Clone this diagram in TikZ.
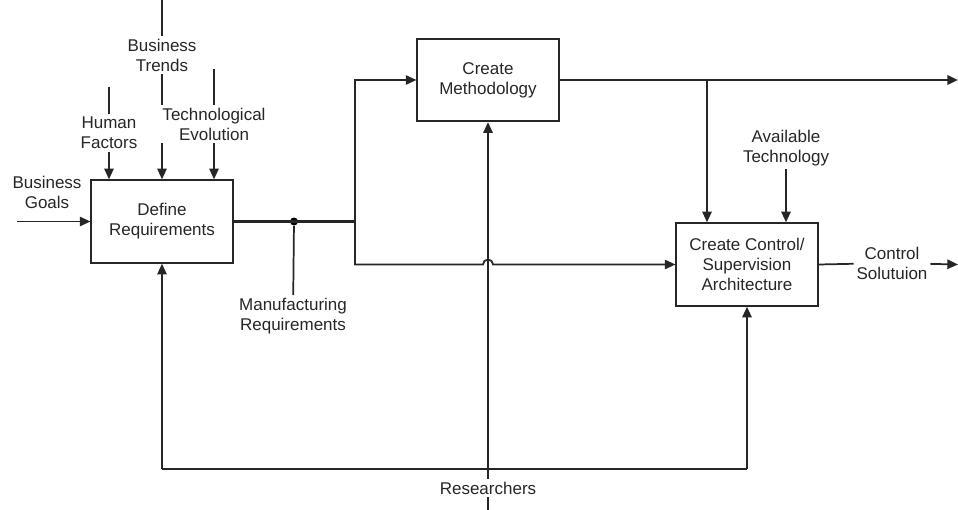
\documentclass[tikz,border=0pt]{standalone}
\usepackage{fontspec}
\setmainfont{Liberation Sans}
\usetikzlibrary{arrows.meta}

\begin{document}
\begin{tikzpicture}[x=0.75pt,y=-0.75pt,
	font=\fontsize{12.75}{15}\selectfont, text=black!85,
	box/.style={draw=black!85, line width=1.3pt, minimum width=106pt, minimum height=62pt, align=center},
	lbl/.style={align=center, inner sep=2pt},
	wire/.style={draw=black!85, line width=1.3pt},
	bus/.style={draw=black!85, line width=1.8pt},
	flow/.style={wire, -{Triangle[length=8pt,width=7pt]}},
	dot/.style={circle, fill=black, inner sep=0pt, minimum size=6pt}]
		\useasboundingbox (0,0) rectangle (958,510);
		\node[box] (define) at (162,221.5) {Define\\Requirements};
		\node[box] (method) at (488,80) {Create\\Methodology};
		\node[box] (control) at (747,264.5) {Create Control/\\Supervision\\Architecture};
		\node[lbl] (goals) at (47,192) {Business\\Goals};
		\node[lbl] (human) at (109,133) {Human\\Factors};
		\node[lbl] (trends) at (162,55) {Business\\Trends};
		\node[lbl] (techevo) at (214,124) {Technological\\Evolution};
		\node[lbl] (manreq) at (293,316) {Manufacturing\\Requirements};
		\node[lbl] (avail) at (786,148) {Available\\Technology};
		\node[lbl] (solution) at (892,263) {Control\\Solutuion};
		\node[lbl] (research) at (488,488) {Researchers};
		\node[dot] (split) at (294,221.5) {};
		\coordinate (goals-in) at (17,221.5);
		\coordinate (human-in) at (109,87);
		\coordinate (trends-in) at (162,0);
		\coordinate (techevo-in) at (214,69);
		\coordinate (fork) at (355,221.5);
		\coordinate (hop) at (488,264.5);
		\coordinate (tap) at (707,80);
		\coordinate (method-out) at (958,80);
		\coordinate (solution-out) at (958,264.5);
		\coordinate (loop-l) at (162,469);
		\coordinate (loop-r) at (747,469);
		\coordinate (research-in) at (488,510);
		% inputs and controls of Define Requirements
		\draw[flow] (goals-in) -- (define.west);
		\draw[wire] (human-in) -- (human);
		\draw[flow] (human) -- (human |- define.north);
		\draw[wire] (trends-in) -- (trends);
		\draw[wire] (trends) -- (trends |- techevo.north);
		\draw[flow] (trends |- techevo.south) -- (trends |- define.north);
		\draw[wire] (techevo-in) -- (techevo);
		\draw[flow] (techevo) -- (techevo |- define.north);
		% output
		\draw[bus] (define.east) -- (fork);
		\draw[wire] (split) -- (manreq);
		\draw[flow] (fork) |- (method.west);
		\draw[flow] (fork) -- (fork |- control.west) -- ([xshift=-3.75pt]hop)
			arc[start angle=180, end angle=360, radius=5] -- (control.west);
		\draw[bus, -{Triangle[length=8pt,width=7pt]}] (method.east) -- (method-out);
		\draw[flow] (tap) -- (tap |- control.north);
		\draw[flow] (avail) -- (avail |- control.north);
		\draw[wire] (control.east) -- (solution);
		\draw[flow] (solution) -- (solution-out);
		% mechanism
		\draw[wire] (research-in) -- (research);
		\draw[flow] (research) -- (method.south);
		\draw[wire] (loop-l) -- (loop-r);
		\draw[flow] (loop-l) -- (define.south);
		\draw[flow] (loop-r) -- (control.south);
	\end{tikzpicture}
\end{document}
